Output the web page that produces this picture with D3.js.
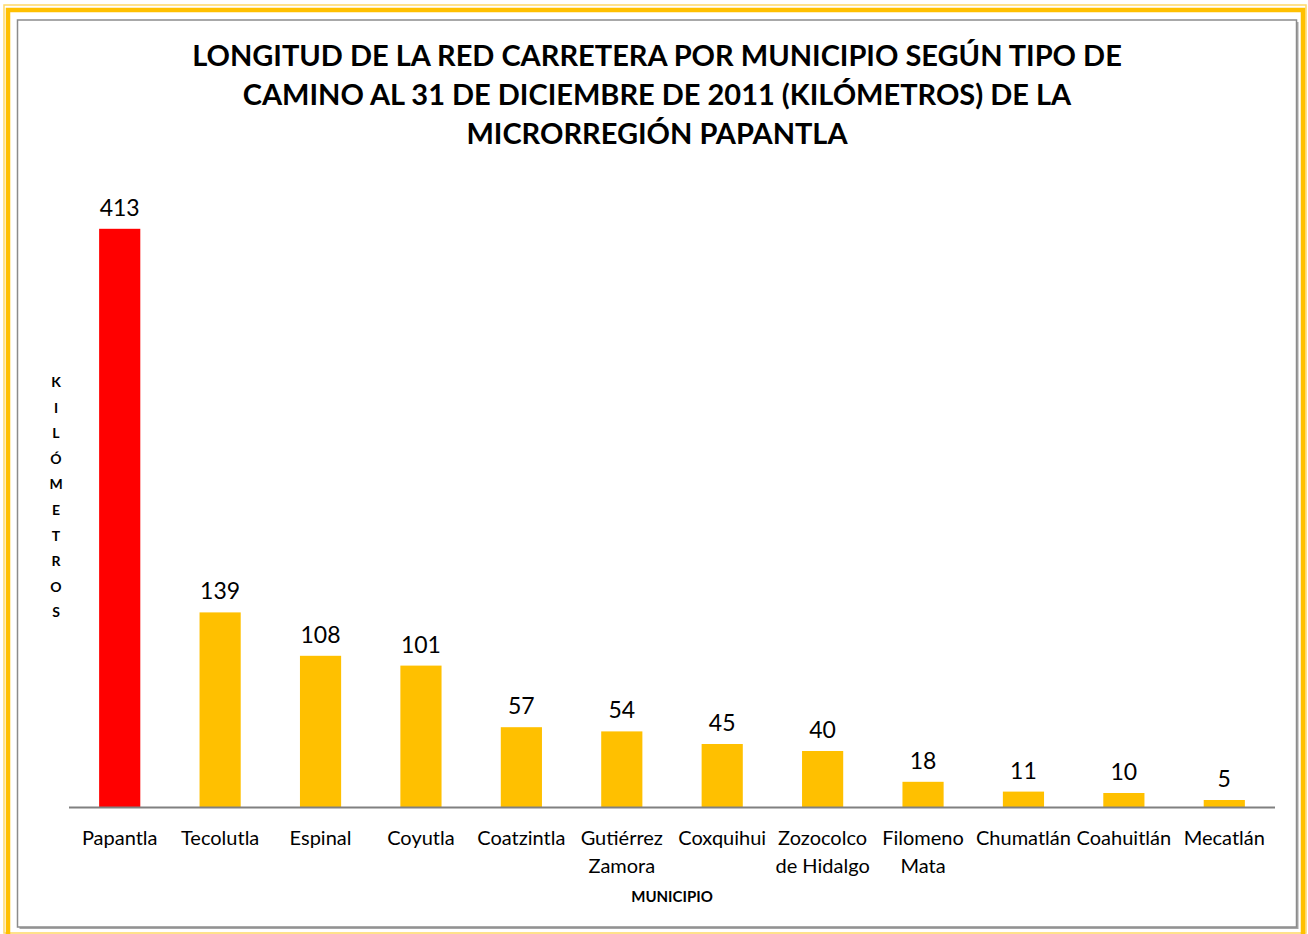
<!DOCTYPE html>
<html lang="es">
<head>
  <meta charset="UTF-8" />
  <title>Longitud de la red carretera - Microrregión Papantla</title>
  <script src="https://d3js.org/d3.v7.min.js"></script>
  <style>
    body { margin: 0; background: white; }
    svg { display: block; }
  </style>
</head>
<body>
  <svg id="chart" width="1308" height="934"></svg>
  <script>
    const municipios = ['Papantla', 'Tecolutla', 'Espinal', 'Coyutla', 'Coatzintla', 'Gutiérrez Zamora',
      'Coxquihui', 'Zozocolco de Hidalgo', 'Filomeno Mata', 'Chumatlán', 'Coahuitlán', 'Mecatlán'];
    const kilometros = [413, 139, 108, 101, 57, 54, 45, 40, 18, 11, 10, 5];
    // split labels as in the original
    const etiquetas = [['Papantla'], ['Tecolutla'], ['Espinal'], ['Coyutla'], ['Coatzintla'],
      ['Gutiérrez', 'Zamora'], ['Coxquihui'], ['Zozocolco', 'de Hidalgo'], ['Filomeno', 'Mata'],
      ['Chumatlán'], ['Coahuitlán'], ['Mecatlán']];
    const tituloLineas = ['LONGITUD DE LA RED CARRETERA POR MUNICIPIO SEGÚN TIPO DE',
      'CAMINO AL 31 DE DICIEMBRE DE 2011 (KILÓMETROS) DE LA', 'MICRORREGIÓN PAPANTLA'];

    const data = municipios.map((m, i) => ({ m, v: kilometros[i], lab: etiquetas[i] }));

    const svg = d3.select('#chart');
    const font = 'Lato, "Open Sans", sans-serif';

    // frame
    svg.append('rect').attr('x', 4).attr('y', 5).attr('width', 1302).attr('height', 928)
      .attr('fill', 'none').attr('stroke', '#ffd966').attr('stroke-width', 1.5);
    svg.append('path').attr('d', 'M8,934 V10 H1303 V934')
      .attr('fill', 'none').attr('stroke', '#ffc000').attr('stroke-width', 4.5);
    svg.append('rect').attr('x', 19.5).attr('y', 22).attr('width', 1279).attr('height', 907)
      .attr('fill', '#a6a6a6');
    svg.append('rect').attr('x', 17.5).attr('y', 20).attr('width', 1279).attr('height', 907)
      .attr('fill', 'white').attr('stroke', '#8c8c8c').attr('stroke-width', 1.5);

    const x = d3.scaleBand().domain(municipios).range([69, 1275]).paddingInner(0.59).paddingOuter(0.3);
    const y = d3.scaleLinear().domain([0, 450]).range([807, 177]);

    // title
    svg.append('text')
      .attr('text-anchor', 'middle')
      .attr('font-family', font).attr('font-weight', 'bold').attr('font-size', 29).attr('fill', '#000')
      .selectAll('tspan').data(tituloLineas).join('tspan')
      .attr('x', 657).attr('y', (d, i) => 66 + i * 39)
      .text(d => d);

    // bars
    svg.append('g').selectAll('rect').data(data).join('rect')
      .attr('x', d => x(d.m))
      .attr('y', d => y(d.v))
      .attr('width', x.bandwidth())
      .attr('height', d => y(0) - y(d.v))
      .attr('fill', (d, i) => i === 0 ? '#ff0000' : '#ffc000');

    // value labels
    svg.append('g').selectAll('text').data(data).join('text')
      .attr('x', d => x(d.m) + x.bandwidth() / 2)
      .attr('y', d => y(d.v) - 13)
      .attr('text-anchor', 'middle')
      .attr('font-family', font).attr('font-size', 23).attr('fill', '#000')
      .text(d => d.v);

    // baseline
    svg.append('line').attr('x1', 69).attr('x2', 1275).attr('y1', 807.5).attr('y2', 807.5)
      .attr('stroke', '#808080').attr('stroke-width', 2);

    // category labels
    svg.append('g').selectAll('text').data(data).join('text')
      .attr('text-anchor', 'middle')
      .attr('font-family', font).attr('font-size', 20).attr('fill', '#000')
      .each(function (d) {
        d3.select(this).selectAll('tspan').data(d.lab).join('tspan')
          .attr('x', x(d.m) + x.bandwidth() / 2)
          .attr('y', (t, j) => 845 + j * 28)
          .text(t => t);
      });

    // axis titles
    svg.append('text').attr('x', 672).attr('y', 902).attr('text-anchor', 'middle')
      .attr('font-family', font).attr('font-weight', 'bold').attr('font-size', 15)
      .text('MUNICIPIO');

    const letras = 'KILÓMETROS'.split('');
    svg.append('g').selectAll('text').data(letras).join('text')
      .attr('x', 56).attr('y', (d, i) => 387 + i * 25.6)
      .attr('text-anchor', 'middle')
      .attr('font-family', font).attr('font-weight', 'bold').attr('font-size', 14)
      .text(d => d);
  </script>
</body>
</html>
